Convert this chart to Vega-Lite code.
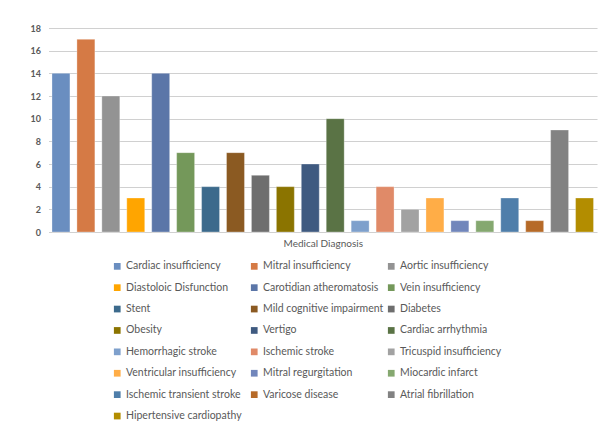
{
  "$schema": "https://vega.github.io/schema/vega-lite/v6.json",
  "width": 548.5,
  "height": 204,
  "autosize": {"type": "none"},
  "padding": {"left": 48.5, "top": 28, "right": 1, "bottom": 192},
  "background": "white",
  "config": {
    "font": "Lato",
    "view": {"stroke": null},
    "axis": {"labelColor": "#595959", "titleColor": "#595959", "labelFont": "Lato", "titleFont": "Lato"}
  },
  "data": {
    "values": [
      {"diagnosis": "Cardiac insufficiency", "count": 14},
      {"diagnosis": "Mitral insufficiency", "count": 17},
      {"diagnosis": "Aortic insufficiency", "count": 12},
      {"diagnosis": "Diastoloic Disfunction", "count": 3},
      {"diagnosis": "Carotidian atheromatosis", "count": 14},
      {"diagnosis": "Vein insufficiency", "count": 7},
      {"diagnosis": "Stent", "count": 4},
      {"diagnosis": "Mild cognitive impairment", "count": 7},
      {"diagnosis": "Diabetes", "count": 5},
      {"diagnosis": "Obesity", "count": 4},
      {"diagnosis": "Vertigo", "count": 6},
      {"diagnosis": "Cardiac arrhythmia", "count": 10},
      {"diagnosis": "Hemorrhagic stroke", "count": 1},
      {"diagnosis": "Ischemic stroke", "count": 4},
      {"diagnosis": "Tricuspid insufficiency", "count": 2},
      {"diagnosis": "Ventricular insufficiency", "count": 3},
      {"diagnosis": "Mitral regurgitation", "count": 1},
      {"diagnosis": "Miocardic infarct", "count": 1},
      {"diagnosis": "Ischemic transient stroke", "count": 3},
      {"diagnosis": "Varicose disease", "count": 1},
      {"diagnosis": "Atrial fibrillation", "count": 9},
      {"diagnosis": "Hipertensive cardiopathy", "count": 3}
    ]
  },
  "mark": {"type": "bar", "stroke": "white", "strokeWidth": 0.5, "strokeOpacity": 0.6},
  "encoding": {
    "x": {
      "field": "diagnosis",
      "type": "nominal",
      "sort": null,
      "scale": {"paddingInner": 0.28, "paddingOuter": 0.14},
      "axis": {"labels": false, "ticks": false, "domain": false, "title": "Medical Diagnosis", "titleFontSize": 10, "titleFontWeight": "normal", "titlePadding": 6}
    },
    "y": {
      "field": "count",
      "type": "quantitative",
      "scale": {"domain": [0, 18], "nice": false},
      "axis": {"values": [0, 2, 4, 6, 8, 10, 12, 14, 16, 18], "title": null, "domain": false, "ticks": false, "labelPadding": 8, "labelFontSize": 9, "labelFontWeight": "bold", "gridColor": "#D0D0D0", "gridWidth": 1.2}
    },
    "color": {
      "field": "diagnosis",
      "type": "nominal",
      "sort": null,
      "scale": {
        "domain": ["Cardiac insufficiency", "Mitral insufficiency", "Aortic insufficiency", "Diastoloic Disfunction", "Carotidian atheromatosis", "Vein insufficiency", "Stent", "Mild cognitive impairment", "Diabetes", "Obesity", "Vertigo", "Cardiac arrhythmia", "Hemorrhagic stroke", "Ischemic stroke", "Tricuspid insufficiency", "Ventricular insufficiency", "Mitral regurgitation", "Miocardic infarct", "Ischemic transient stroke", "Varicose disease", "Atrial fibrillation", "Hipertensive cardiopathy"],
        "range": ["#6A8EC0", "#D57A45", "#939393", "#FFA500", "#5B76A8", "#74985A", "#3C6A8C", "#8B5A22", "#6E6E6E", "#8B7400", "#3F5A80", "#5A7345", "#7EA0CC", "#E08A68", "#A2A2A2", "#FFAD47", "#7186BB", "#85A870", "#4F7EAA", "#B66A28", "#828282", "#B38D00"]
      },
      "legend": {
        "title": null,
        "orient": "none",
        "direction": "horizontal",
        "legendX": 63.5,
        "legendY": 233,
        "columns": 3,
        "gridAlign": "all",
        "columnPadding": 2,
        "rowPadding": 10.4,
        "symbolType": "square",
        "symbolSize": 45,
        "symbolStrokeWidth": 0,
        "labelOffset": 3.5,
        "labelFontSize": 10.5,
        "labelColor": "#595959",
        "labelFont": "Lato",
        "labelLimit": 300
      }
    }
  }
}
